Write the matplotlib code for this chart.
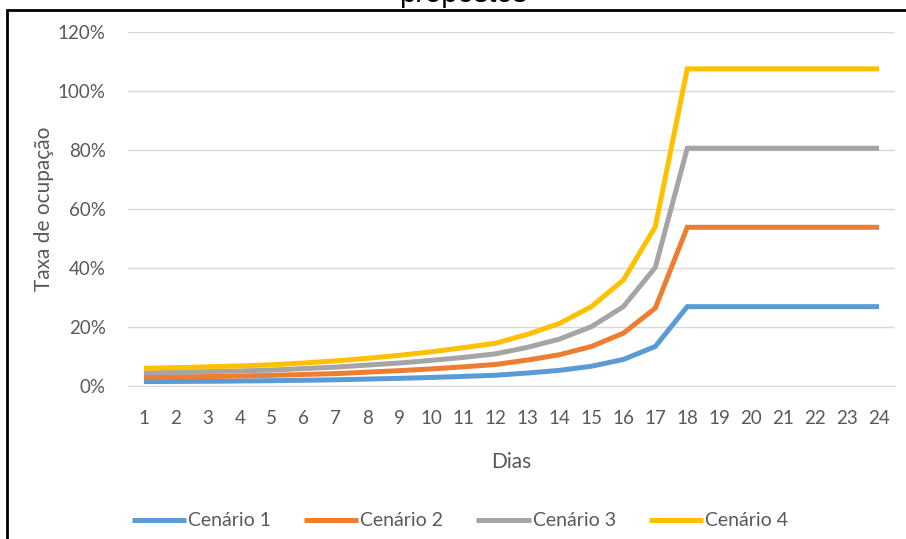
import numpy as np
import matplotlib.pyplot as plt
from matplotlib.patches import Rectangle
from matplotlib.ticker import FuncFormatter

# dados (taxa de ocupação, %)
dias = [str(d) for d in range(1, 25)]
cenario_1 = [1.5, 1.55, 1.6, 1.7, 1.8, 1.95, 2.1, 2.35, 2.6, 2.9, 3.25, 3.65,
             4.4, 5.3, 6.7, 9.0, 13.4, 26.9, 26.9, 26.9, 26.9, 26.9, 26.9, 26.9]
cenario_2 = [3.0, 3.1, 3.2, 3.4, 3.6, 3.9, 4.2, 4.7, 5.2, 5.8, 6.5, 7.3,
             8.8, 10.6, 13.4, 17.9, 26.4, 53.8, 53.8, 53.8, 53.8, 53.8, 53.8, 53.8]
cenario_3 = [4.5, 4.6, 4.9, 5.1, 5.4, 5.9, 6.4, 7.1, 7.8, 8.7, 9.7, 10.9,
             13.1, 15.9, 20.1, 26.9, 40.2, 80.6, 80.6, 80.6, 80.6, 80.6, 80.6, 80.6]
cenario_4 = [6.0, 6.2, 6.5, 6.8, 7.2, 7.8, 8.5, 9.4, 10.4, 11.6, 13.0, 14.5,
             17.5, 21.2, 26.9, 35.9, 54.0, 107.5, 107.5, 107.5, 107.5, 107.5, 107.5, 107.5]
nomes = ["Cenário 1", "Cenário 2", "Cenário 3", "Cenário 4"]
cores = ["#5B9BD5", "#ED7D31", "#A5A5A5", "#FFC000"]

plt.rcParams['font.family'] = ['Lato', 'DejaVu Sans']
TXT = '#595959'

fig = plt.figure(figsize=(9.06, 5.39), dpi=100, facecolor='white')
W, H = 906, 539
ax = fig.add_axes([128 / W, 1 - 386 / H, 767 / W, 354 / H])

x = np.arange(len(dias))
for serie, nome, cor in zip([cenario_1, cenario_2, cenario_3, cenario_4], nomes, cores):
    ax.plot(x, np.array(serie) / 100, color=cor, lw=3.6, label=nome,
            solid_joinstyle='miter', solid_capstyle='butt')

ax.set_xlim(-0.5, len(dias) - 0.5)
ax.set_ylim(0, 1.2)
ax.set_yticks(np.arange(0, 1.21, 0.2))
ax.yaxis.set_major_formatter(FuncFormatter(lambda v, p: f"{v * 100:.0f}%"))
ax.set_xticks(x)
ax.set_xticklabels(dias)
ax.grid(axis='y', color='#D9D9D9', lw=1)
ax.set_axisbelow(True)
for s in ['top', 'right', 'left']:
    ax.spines[s].set_visible(False)
ax.spines['bottom'].set_color('#D9D9D9')
ax.tick_params(length=0, labelsize=13.5, colors=TXT)
ax.tick_params(axis='x', pad=17)
ax.tick_params(axis='y', pad=16)
ax.set_xlabel("Dias", fontsize=15, color=TXT, labelpad=18)
ax.set_ylabel("Taxa de ocupação", fontsize=15, color=TXT, labelpad=3)

leg = fig.legend(loc='center', bbox_to_anchor=(460 / W, 1 - 521 / H), ncol=4,
                 frameon=False, fontsize=14, handlelength=2.8, handletextpad=0.1,
                 columnspacing=1.7)
for t in leg.get_texts():
    t.set_color(TXT)

# moldura e título cortado no topo
fig.add_artist(Rectangle((7 / W, -0.05), 1.1, 1 - 10 / H + 0.05, transform=fig.transFigure,
                         fill=False, edgecolor='black', lw=2))
fig.text(463 / W, 1 - 2 / H, "propostos", ha='center', va='baseline', fontsize=21,
         color='black', family=['Liberation Sans', 'DejaVu Sans'])

plt.savefig("out.png", dpi=100)
